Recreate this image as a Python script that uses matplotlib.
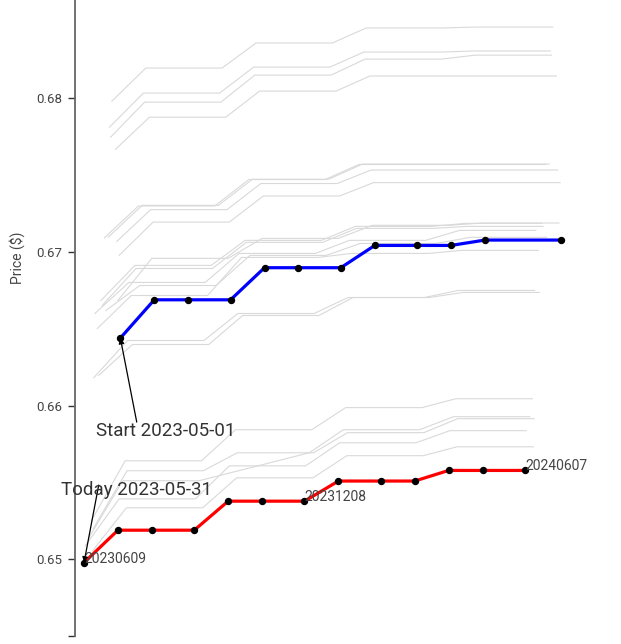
import numpy as np
import pandas as pd
import matplotlib
matplotlib.use("Agg")
import matplotlib.pyplot as plt

plt.rcParams['font.family'] = ['Roboto', 'DejaVu Sans']

# contract expiry dates of the forward curve
contract_dates = pd.to_datetime([
    "2023-06-09", "2023-07-07", "2023-08-04", "2023-09-08", "2023-10-06",
    "2023-11-03", "2023-12-08", "2024-01-05", "2024-02-09", "2024-03-08",
    "2024-04-05", "2024-05-03", "2024-06-07"])

start_date = pd.Timestamp("2023-05-01")
today_date = pd.Timestamp("2023-05-31")

# curve as of today (red)
today_prices = [0.64978, 0.65189, 0.65189, 0.65189, 0.65378, 0.65378, 0.65378,
                0.65509, 0.65509, 0.65509, 0.65578, 0.65578, 0.65578]
# curve as of start date (blue), one contract missing
start_prices = [0.66440, 0.66689, 0.66689, 0.66689, 0.66898, 0.66898, 0.66898,
                0.67043, 0.67043, 0.67043, 0.67078, None, 0.67078]

# curves in between (grey): day offset and prices
hist_offsets = [23, 21, 22, 26, 17, 20, 27, 29, 8, 12,
                28, 14, 15, 9, 18, 11, 6, 4, 1, 7, 7.5]
hist_prices = [
    [0.67982, 0.68198, 0.68198, 0.68198, 0.68361, 0.68361, 0.68361, 0.68459, 0.68459, 0.68459, 0.68465, 0.68465, 0.68465],
    [0.67813, 0.68035, 0.68035, 0.68035, 0.68204, 0.68204, 0.68204, 0.68302, 0.68302, 0.68302, 0.68309, 0.68309, 0.68309],
    [0.67748, 0.67976, 0.67976, 0.67976, 0.68152, 0.68152, 0.68152, 0.68256, 0.68256, 0.68256, 0.68282, 0.68282, 0.68282],
    [0.67669, 0.67878, 0.67878, 0.67878, 0.68048, 0.68048, 0.68048, 0.68146, 0.68146, 0.68146, 0.68146, 0.68146, 0.68146],
    [0.67094, 0.67300, 0.67300, 0.67300, 0.67472, 0.67472, 0.67472, 0.67570, 0.67570, 0.67570, 0.67570, 0.67570, 0.67570],
    [0.67097, 0.67304, 0.67304, 0.67304, 0.67474, 0.67474, 0.67474, 0.67573, 0.67573, 0.67573, 0.67573, 0.67573, 0.67573],
    [0.67069, 0.67276, 0.67276, 0.67276, 0.67446, 0.67446, 0.67446, 0.67534, 0.67534, 0.67534, 0.67534, 0.67534, 0.67534],
    [0.66978, 0.67195, 0.67195, 0.67195, 0.67365, 0.67365, 0.67365, 0.67452, 0.67452, 0.67452, 0.67452, 0.67452, 0.67452],
    [0.66182, 0.66424, 0.66424, 0.66424, 0.66600, 0.66600, 0.66600, 0.66704, 0.66704, 0.66704, 0.66750, 0.66750, 0.66750],
    [0.66196, 0.66398, 0.66398, 0.66398, 0.66587, 0.66587, 0.66587, 0.66704, 0.66704, 0.66704, 0.66737, 0.66737, 0.66737],
    [0.66685, 0.66959, 0.66959, 0.66959, 0.67089, 0.67089, 0.67089, 0.67174, 0.67174, 0.67174, 0.67189, 0.67189, 0.67189],
    [0.66685, 0.66913, 0.66913, 0.66913, 0.67076, 0.67076, 0.67076, 0.67167, 0.67167, 0.67167, 0.67187, 0.67187, 0.67187],
    [0.66652, 0.66893, 0.66893, 0.66893, 0.67063, 0.67063, 0.67063, 0.67154, 0.67154, 0.67154, 0.67167, 0.67167, 0.67167],
    [0.66600, 0.66802, 0.66802, 0.66802, 0.66991, 0.66991, 0.66991, 0.67076, 0.67076, 0.67076, 0.67141, 0.67141, 0.67141],
    [0.66619, 0.66782, 0.66782, 0.66782, 0.66978, 0.66978, 0.66978, 0.67056, 0.67056, 0.67056, 0.67096, 0.67096, 0.67096],
    [0.66502, 0.66717, 0.66717, 0.66717, 0.66965, 0.66965, 0.66965, 0.66991, 0.66991, 0.66991, 0.67011, 0.67011, 0.67011],
    [0.65250, 0.65641, 0.65641, 0.65641, 0.65843, 0.65843, 0.65843, 0.65987, 0.65987, 0.65987, 0.66045, 0.66045, 0.66045],
    [0.65139, 0.65511, 0.65511, 0.65511, None, None, 0.65693, 0.65843, 0.65843, 0.65843, 0.65928, 0.65928, 0.65928],
    [0.65087, 0.65393, 0.65393, 0.65393, 0.65608, 0.65608, 0.65608, 0.65758, 0.65758, 0.65758, 0.65837, 0.65837, 0.65837],
    [0.65054, 0.65335, 0.65335, 0.65335, 0.65530, 0.65530, 0.65530, 0.65674, 0.65674, 0.65674, 0.65732, 0.65732, 0.65732],
    [0.65198, 0.65576, 0.65576, 0.65576, 0.65693, 0.65693, 0.65693, 0.65824, 0.65824, 0.65824, 0.65915, 0.65915, 0.65915],
]

label_idx = [0, 6, 12]


def curve(offset_days, prices):
    xs, ys = [], []
    for d, p in zip(contract_dates, prices):
        if p is None:
            continue
        xs.append(d + pd.Timedelta(days=offset_days))
        ys.append(p)
    return xs, ys


fig = plt.figure(figsize=(6.21, 6.44), dpi=100)
ax = fig.add_axes([0.12, 0.0124, 0.88, 0.9876])

for off, prices in zip(hist_offsets, hist_prices):
    xs, ys = curve(off, prices)
    ax.plot(xs, ys, color="#d9d9d9", lw=0.8, zorder=1)

shift = (today_date - start_date).days
bx, by = curve(shift, start_prices)
ax.plot(bx, by, color="blue", lw=2.3, zorder=3)
ax.plot(bx, by, "o", color="black", ms=4.3, zorder=4)

rx, ry = curve(0, today_prices)
ax.plot(rx, ry, color="red", lw=2.3, zorder=3)
ax.plot(rx, ry, "o", color="black", ms=4.3, zorder=4)

for i in label_idx:
    ax.text(rx[i], ry[i], contract_dates[i].strftime("%Y%m%d"),
            ha="left", va="baseline", fontsize=10, color="#444444", zorder=5)

ax.annotate("Start " + start_date.strftime("%Y-%m-%d"), xy=(bx[0], by[0]),
            xytext=(-17.3, -70.6), textcoords="offset points",
            ha="left", va="baseline", fontsize=13.5, color="#333333",
            arrowprops=dict(arrowstyle="-|>", color="black", lw=0.9,
                            mutation_scale=8, shrinkA=0, shrinkB=0,
                            patchA=None, relpos=(0.29, 1.0)))
ax.annotate("Today " + today_date.strftime("%Y-%m-%d"), xy=(rx[0], ry[0]),
            xytext=(-16.6, 49), textcoords="offset points",
            ha="left", va="baseline", fontsize=13.5, color="#333333",
            arrowprops=dict(arrowstyle="-|>", color="black", lw=0.9,
                            mutation_scale=8, shrinkA=0, shrinkB=0,
                            patchA=None, relpos=(0.25, 0.75)))

base = contract_dates[0]
ax.set_xlim(base - pd.Timedelta(days=7.84), base + pd.Timedelta(days=443.3))
ax.set_ylim(0.645, 0.68641)
ax.set_yticks([0.65, 0.66, 0.67, 0.68])
ax.set_yticklabels(["0.65", "0.66", "0.67", "0.68"])
ax.set_yticks([0.645], minor=True)
ax.tick_params(axis="y", which="both", length=5, width=1, color="#333333",
               labelsize=9.5, labelcolor="#444444")
ax.set_xticks([])
ax.set_ylabel("Price ($)", fontsize=10, color="#444444")
ax.yaxis.set_label_coords(-0.09, 0.594)

for s in ["top", "right", "bottom"]:
    ax.spines[s].set_visible(False)
ax.spines["left"].set_color("#666666")
ax.spines["left"].set_linewidth(1.3)

fig.savefig("out.png", dpi=100)
